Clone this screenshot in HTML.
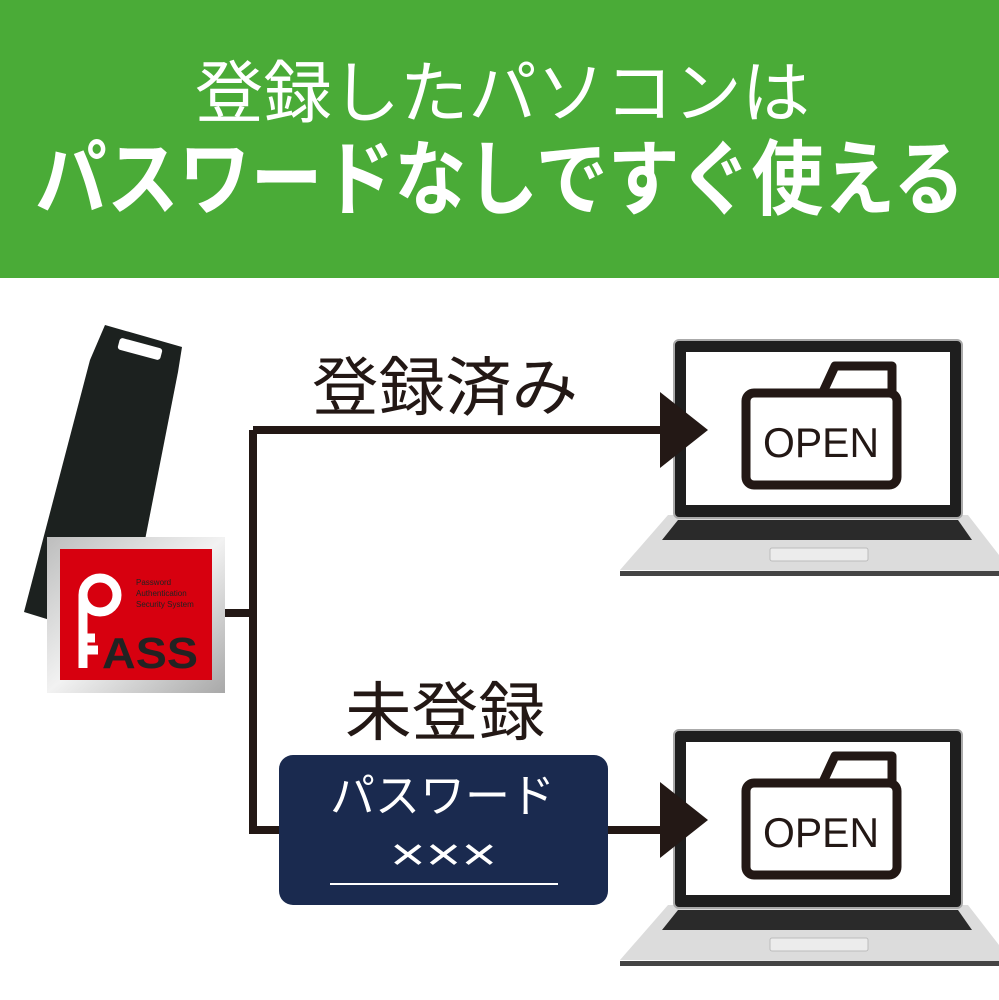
<!DOCTYPE html>
<html><head><meta charset="utf-8"><style>
html,body{margin:0;padding:0;background:#fff;}
svg{display:block;}
text{font-family:"Liberation Sans","Noto Sans CJK JP",sans-serif;}
</style></head><body>
<svg width="999" height="1000" viewBox="0 0 999 1000" xmlns="http://www.w3.org/2000/svg">
<defs>
<linearGradient id="sil" x1="0" y1="0" x2="1" y2="1">
<stop offset="0" stop-color="#bdbdbd"/><stop offset="0.5" stop-color="#f2f2f2"/><stop offset="1" stop-color="#a8a8a8"/>
</linearGradient>
<g id="laptop">
<path d="M620,570 L668,515 L968,515 L999,555 L999,572 Z" fill="#dcdcdc"/>
<path d="M662,540 L678,520 L958,520 L972,540 Z" fill="#2a2a2a"/>
<rect x="770" y="548" width="98" height="13" rx="2" fill="#ececec" stroke="#bbb"/>
<rect x="620" y="571" width="379" height="5" fill="#444"/>
<rect x="674" y="340" width="288" height="178" rx="5" fill="#1e1e1e" stroke="#aaa" stroke-width="2"/>
<rect x="686" y="352" width="264" height="153" fill="#fff"/>
<path d="M823,392 L835,366 L892,366 L892,392" fill="none" stroke="#231815" stroke-width="9" stroke-linejoin="round"/>
<rect x="746" y="393" width="151" height="92" rx="8" fill="none" stroke="#231815" stroke-width="9"/>
<text x="821" y="457" font-size="42" text-anchor="middle" fill="#231815" textLength="116" lengthAdjust="spacingAndGlyphs">OPEN</text>
<polygon points="660,392 708,430 660,468" fill="#231815"/>
</g>
</defs>
<rect x="0" y="0" width="999" height="278" fill="#4aab37"/>
<text x="195" y="117" font-size="68" fill="#fff" textLength="615" lengthAdjust="spacingAndGlyphs">登録したパソコンは</text>
<text x="35" y="208" font-size="82" font-weight="bold" fill="#fff" textLength="930" lengthAdjust="spacingAndGlyphs">パスワードなしですぐ使える</text>

<path d="M225,613 L253,613 M253,430 L662,430 M253,430 L253,830 L282,830 M606,830 L662,830" stroke="#231815" stroke-width="8" fill="none"/>

<polygon points="105,325 182,347 178,372 145,540 50,620 24,612 90,360" fill="#1c211f"/>
<rect x="118" y="343" width="44" height="12" rx="3" fill="#fff" transform="rotate(15 140 349)"/>
<rect x="47" y="537" width="178" height="156" fill="url(#sil)"/>
<rect x="60" y="549" width="152" height="131" fill="#d7000f"/>
<circle cx="100" cy="595" r="17" fill="none" stroke="#fff" stroke-width="9"/>
<path d="M83,595 L83,668 M83,650 L98,650 M83,638 L95,638" stroke="#fff" stroke-width="9" fill="none"/>
<text x="136" y="585" font-size="8" fill="#222">Password</text>
<text x="136" y="596" font-size="8" fill="#222">Authentication</text>
<text x="136" y="607" font-size="8" fill="#222">Security System</text>
<text x="102" y="668" font-size="44" font-weight="bold" fill="#222" textLength="96" lengthAdjust="spacingAndGlyphs">ASS</text>

<text x="312" y="410" font-size="64" fill="#231815" textLength="266" lengthAdjust="spacingAndGlyphs">登録済み</text>
<text x="345" y="735" font-size="64" fill="#231815" textLength="200" lengthAdjust="spacingAndGlyphs">未登録</text>

<rect x="279" y="755" width="329" height="150" rx="14" fill="#1a2a4f"/>
<text x="330" y="812" font-size="46" fill="#fff" textLength="225" lengthAdjust="spacingAndGlyphs">パスワード</text>
<text x="390" y="870" font-size="46" fill="#fff" textLength="107" lengthAdjust="spacingAndGlyphs">×××</text>
<line x1="330" y1="884" x2="558" y2="884" stroke="#fff" stroke-width="2"/>

<use href="#laptop"/>
<use href="#laptop" y="390"/>
</svg>
</body></html>
